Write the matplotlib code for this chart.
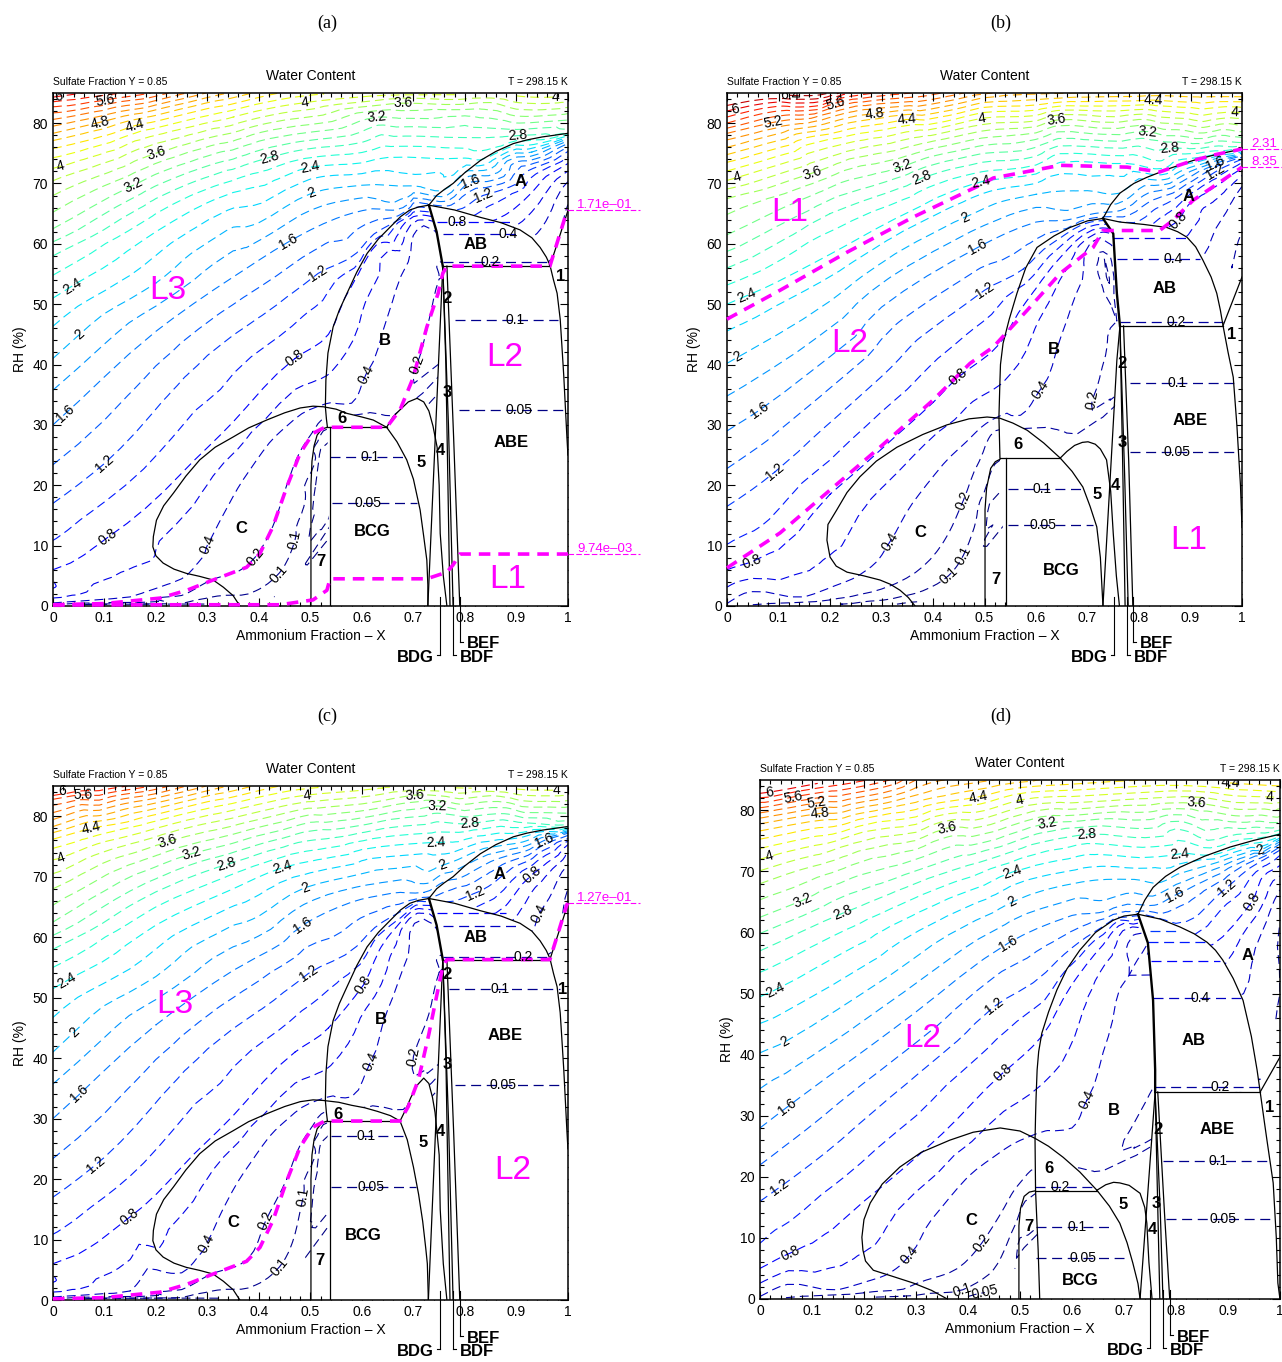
import numpy as np
import matplotlib
matplotlib.use('Agg')
import matplotlib.pyplot as plt
import matplotlib.tri as mtri
from matplotlib.ticker import MultipleLocator, FuncFormatter

plt.rcParams['font.family'] = ['Liberation Sans', 'DejaVu Sans']
plt.rcParams['lines.dashed_pattern'] = [8, 4.5]

# contour levels of water content
levels = [0.05, 0.1, 0.2, 0.4, 0.6, 0.8, 1.0, 1.2, 1.4, 1.6, 1.8, 2.0, 2.2, 2.4, 2.6, 2.8,
          3.0, 3.2, 3.4, 3.6, 3.8, 4.0, 4.2, 4.4, 4.6, 4.8, 5.0, 5.2, 5.4, 5.6, 5.8, 6.0, 6.2, 6.4]
lab_levels = [0.05, 0.1, 0.2, 0.4, 0.8, 1.2, 1.6, 2.0, 2.4, 2.8, 3.2, 3.6, 4.0, 4.4, 4.8, 5.2, 5.6, 6.0, 6.4]

# ---------------- panel (a) ----------------
iso_a = [
    (6.0, [0.0, 0.06], [84.3, 85.0]),
    (5.6, [0.0, 0.10, 0.19], [82.7, 83.8, 85.0]),
    (5.2, [0.0, 0.12, 0.26], [80.6, 82.6, 85.0]),
    (4.8, [0.0, 0.09, 0.20, 0.34], [78.3, 80.1, 82.2, 85.0]),
    (4.4, [0.0, 0.16, 0.30, 0.44], [75.8, 79.6, 82.4, 85.0]),
    (4.0, [0.0, 0.20, 0.35, 0.49, 0.62, 0.78, 0.90, 0.975, 1.0], [72.5, 78.0, 81.0, 83.4, 84.5, 84.7, 84.5, 84.3, 84.2]),
    (3.6, [0.0, 0.20, 0.45, 0.68, 0.85, 1.0], [68.0, 75.0, 80.5, 83.3, 83.4, 82.6]),
    (3.2, [0.0, 0.156, 0.40, 0.628, 0.80, 1.0], [62.5, 69.7, 77.0, 81.0, 81.2, 80.5]),
    (2.8, [0.0, 0.20, 0.42, 0.60, 0.80, 0.90, 1.0], [58.0, 67.5, 74.3, 76.8, 77.6, 77.9, 78.4]),
    (2.4, [0.0, 0.20, 0.35, 0.50, 0.65, 0.80, 0.83, 0.92, 1.0], [51.0, 62.0, 68.5, 72.7, 74.3, 74.2, 73.9, 76.3, 77.9]),
    (2.0, [0.0, 0.20, 0.40, 0.503, 0.60, 0.70, 0.757, 0.85, 0.93, 1.0], [41.0, 53.5, 63.5, 68.4, 69.7, 69.6, 68.8, 72.4, 75.2, 77.4]),
    (1.6, [0.0, 0.20, 0.35, 0.457, 0.55, 0.62, 0.68], [30.0, 45.5, 54.5, 60.3, 64.2, 65.8, 66.0]),
    (1.6, [0.75, 0.81, 0.90, 1.0], [67.0, 70.2, 73.6, 76.6]),
    (1.2, [0.0, 0.10, 0.30, 0.515, 0.59, 0.64, 0.69], [17.0, 23.6, 41.5, 55.1, 58.5, 62.5, 65.0]),
    (1.2, [0.78, 0.835, 0.92, 1.0], [65.5, 68.0, 72.0, 75.3]),
    (0.8, [0.0, 0.107, 0.25, 0.35, 0.47, 0.535, 0.58, 0.63, 0.70], [6.0, 11.4, 22.0, 30.5, 41.0, 45.0, 53.0, 60.0, 64.5]),
    (0.8, [0.86, 0.93, 1.0], [64.0, 68.5, 73.3]),
    (0.4, [0.0, 0.15, 0.25, 0.29, 0.30, 0.33, 0.37, 0.42, 0.47, 0.53, 0.58, 0.608, 0.65, 0.69, 0.72],
          [0.5, 1.5, 4.5, 8.0, 10.1, 15.0, 21.0, 27.0, 31.0, 33.5, 33.6, 38.4, 48.0, 57.0, 63.0]),
    (0.4, [0.93, 0.965, 1.0], [61.0, 65.0, 70.3]),
    (0.2, [0.0, 0.20, 0.30, 0.376, 0.427, 0.454, 0.48, 0.505, 0.53, 0.60, 0.66, 0.70, 0.73, 0.75, 0.757],
          [0.2, 1.2, 4.0, 6.6, 13.2, 20.0, 25.6, 28.9, 31.2, 31.8, 31.5, 38.7, 47.3, 54.2, 57.2]),
    (0.2, [0.968, 0.985, 1.0], [57.5, 61.5, 66.5]),
    (0.1, [0.25, 0.38, 0.44, 0.47, 0.49, 0.51, 0.525], [0.4, 2.0, 5.5, 10.9, 17.5, 24.5, 29.0]),
    (0.05, [0.33, 0.43, 0.466, 0.49, 0.50, 0.51, 0.52], [0.3, 1.5, 3.1, 7.0, 13.0, 20.0, 26.0]),
]
clab_a = [(0.012, 84.1), (0.101, 83.8), (0.091, 80.1), (0.16, 79.6), (0.2, 75.0), (0.156, 69.7),
          (0.014, 73.2), (0.042, 52.3), (0.056, 44.5), (0.029, 31.3), (0.101, 23.6), (0.107, 11.4),
          (0.42, 74.3), (0.5, 72.7), (0.503, 68.4), (0.457, 60.3), (0.515, 55.1), (0.47, 41.0),
          (0.49, 83.4), (0.68, 83.3), (0.628, 81.0), (0.975, 84.3), (0.903, 77.8), (0.81, 70.2),
          (0.835, 68.0), (0.3, 10.1), (0.389, 8.4), (0.47, 10.9), (0.466, 3.1), (0.608, 38.4), (0.697, 40.4)]
extra_a = []
bnd_a = [
    ([0.73, 0.745, 0.76, 0.777, 0.80, 0.83, 0.86, 0.894, 0.92, 0.95, 0.975, 1.0],
     [66.4, 68.0, 69.0, 70.0, 71.8, 73.8, 75.3, 76.6, 77.2, 77.7, 78.0, 78.3]),
    ([0.73, 0.71, 0.693, 0.675, 0.654, 0.632, 0.61, 0.59, 0.571, 0.556, 0.544, 0.534, 0.530, 0.529, 0.531, 0.533],
     [66.4, 66.1, 65.6, 64.5, 62.7, 60.8, 58.4, 55.3, 51.8, 49.0, 46.2, 41.9, 37.4, 33.0, 31.0, 29.6]),
    ([0.73, 0.78, 0.829, 0.87, 0.907, 0.93, 0.946, 0.958, 0.965, 0.972, 0.979, 0.985, 0.988, 0.992, 0.995, 0.998, 1.0],
     [66.4, 65.6, 64.4, 63.5, 62.3, 61.0, 59.4, 57.8, 56.5, 54.0, 51.8, 47.5, 43.5, 38.0, 33.0, 28.0, 25.0]),
    ([0.757, 0.965], [56.3, 56.3]),
    ([0.965, 1.0], [56.3, 65.5]),
    ([0.363, 0.35, 0.331, 0.311, 0.285, 0.259, 0.235, 0.214, 0.2, 0.194, 0.195, 0.201, 0.215, 0.234, 0.258, 0.285,
      0.315, 0.35, 0.38, 0.415, 0.45, 0.48, 0.505, 0.525, 0.55, 0.571, 0.6, 0.622, 0.648],
     [0.0, 1.7, 3.1, 4.3, 4.9, 5.4, 6.1, 7.1, 8.3, 9.8, 11.5, 14.2, 16.6, 18.7, 21.5, 24.2,
      26.3, 28.0, 29.5, 30.8, 32.0, 32.8, 33.1, 33.0, 32.6, 31.9, 31.3, 30.8, 29.6]),
    ([0.533, 0.648], [29.6, 29.6]),
    ([0.538, 0.538], [29.6, 0.0]),
    ([0.501, 0.501, 0.503, 0.507, 0.513, 0.522, 0.533], [0.0, 20.0, 24.0, 26.5, 28.3, 29.3, 29.6]),
    ([0.648, 0.668, 0.687, 0.70, 0.713, 0.72, 0.726, 0.728, 0.728], [29.6, 27.2, 24.2, 21.0, 15.9, 11.5, 7.6, 3.5, 0.0]),
    ([0.648, 0.66, 0.674, 0.69, 0.707, 0.72, 0.73, 0.738, 0.746, 0.75, 0.752, 0.758, 0.765],
     [29.6, 31.3, 32.5, 33.8, 34.4, 33.8, 32.3, 29.8, 26.3, 20.0, 12.0, 5.0, 0.0]),
    ([0.728, 0.757], [0.0, 56.3]),
    ([0.757, 0.763, 0.771], [56.3, 40.0, 0.0]),
    ([0.757, 0.768, 0.777], [56.3, 30.0, 0.0]),
    ([0.765, 0.778, 0.790], [56.3, 28.0, 0.0]),
]
thick_a = ([0.73, 0.745, 0.757], [66.4, 62.0, 56.3])
white_a = [
    ([0.73, 0.78, 0.829, 0.87, 0.907, 0.93, 0.946, 0.958, 0.965, 0.757, 0.745],
     [66.4, 65.6, 64.4, 63.5, 62.3, 61.0, 59.4, 57.8, 56.3, 56.3, 62.0]),
    ([0.728, 0.757, 0.965, 0.972, 0.979, 0.985, 0.988, 0.992, 0.995, 0.998, 1.0, 1.0],
     [0.0, 56.3, 56.3, 54.0, 51.8, 47.5, 43.5, 38.0, 33.0, 28.0, 25.0, 0.0]),
    ([0.538, 0.533, 0.531, 0.529, 0.525, 0.55, 0.571, 0.6, 0.622, 0.648, 0.66, 0.674, 0.69, 0.707, 0.72, 0.73,
      0.738, 0.746, 0.75, 0.752, 0.758, 0.765],
     [0.0, 29.6, 31.0, 33.0, 33.0, 32.6, 31.9, 31.3, 30.8, 29.6, 31.3, 32.5, 33.8, 34.4, 33.8, 32.3,
      29.8, 26.3, 20.0, 12.0, 5.0, 0.0]),
]
hz_a = [(0.8, 63.6, 0.745, 0.890, 0.784), (0.4, 61.6, 0.757, 0.905, 0.884), (0.2, 57.0, 0.757, 0.962, 0.849),
        (0.1, 47.3, 0.781, 0.980, 0.898), (0.05, 32.5, 0.789, 0.990, 0.905),
        (0.1, 24.7, 0.538, 0.688, 0.615), (0.05, 17.0, 0.541, 0.706, 0.612)]
mag_a = [
    ([0.0, 0.1, 0.208, 0.26, 0.311, 0.376, 0.402, 0.427, 0.454, 0.48, 0.505, 0.528, 0.648, 0.674, 0.699,
      0.726, 0.748, 0.757, 0.765, 0.965, 0.998, 1.0],
     [0.2, 0.4, 1.3, 2.6, 4.3, 6.4, 8.7, 13.1, 19.7, 25.3, 28.6, 29.6, 29.6, 32.5, 37.7,
      46.2, 51.8, 55.1, 56.3, 56.3, 65.4, 65.6]),
    ([0.0, 0.25, 0.441, 0.505, 0.532, 0.538, 0.726, 0.765, 0.777, 0.79, 1.0],
     [0.15, 0.2, 0.2, 1.0, 2.6, 4.5, 4.5, 5.6, 6.8, 8.6, 8.6]),
]
mlab_a = [('1.71e\u201301', 65.6), ('9.74e\u201303', 8.6)]
reg_a = [('A', 0.909, 70.4), ('AB', 0.821, 59.9), ('B', 0.645, 43.9), ('C', 0.365, 12.9), ('BCG', 0.621, 12.3),
         ('ABE', 0.889, 27.0), ('1', 0.986, 54.6), ('2', 0.765, 51.0), ('3', 0.765, 35.4), ('4', 0.753, 25.7),
         ('5', 0.715, 23.7), ('6', 0.561, 31.0), ('7', 0.52, 7.3)]
lab_a = [('L3', 0.223, 52.2), ('L2', 0.878, 41.2), ('L1', 0.883, 4.3)]
ptr_a = [('BDG', 0.751, -8.1), ('BDF', 0.777, -8.1), ('BEF', 0.790, -5.9)]

# ---------------- panel (b) ----------------
iso_b = [
    (6.4, [0.0, 0.122, 0.20], [83.8, 84.6, 85.0]),
    (6.0, [0.0, 0.10, 0.24], [82.0, 83.5, 85.0]),
    (5.6, [0.0, 0.21, 0.36], [80.0, 83.3, 85.0]),
    (5.2, [0.0, 0.089, 0.25, 0.46], [78.3, 80.1, 82.8, 85.0]),
    (4.8, [0.0, 0.15, 0.287, 0.50, 0.68], [76.0, 79.2, 81.6, 84.2, 85.0]),
    (4.75, [0.80, 0.92, 1.0], [85.0, 85.0, 85.0]),
    (4.4, [0.0, 0.15, 0.349, 0.60, 0.828, 1.0], [73.5, 77.5, 80.6, 83.0, 83.8, 83.5]),
    (4.0, [0.0, 0.25, 0.495, 0.75, 0.986], [70.5, 77.0, 80.8, 82.0, 81.8]),
    (3.6, [0.0, 0.165, 0.40, 0.64, 0.80, 1.0], [67.5, 71.7, 77.0, 80.5, 80.6, 79.7]),
    (3.2, [0.0, 0.15, 0.34, 0.60, 0.817, 1.0], [61.5, 67.5, 72.8, 77.3, 78.6, 77.6]),
    (2.8, [0.0, 0.20, 0.379, 0.60, 0.86, 1.0], [56.0, 65.0, 70.9, 74.5, 75.8, 76.2]),
    (2.4, [0.0, 0.10, 0.233, 0.361, 0.495, 0.647, 0.777, 0.85, 0.93, 1.0],
          [50.0, 53.8, 59.8, 65.6, 70.3, 73.5, 73.3, 72.5, 74.5, 75.5]),
    (2.0, [0.0, 0.20, 0.462, 0.60, 0.70, 0.763, 0.88, 1.0], [40.2, 50.5, 64.4, 68.2, 68.8, 68.4, 72.0, 75.0]),
    (1.6, [0.0, 0.064, 0.30, 0.487, 0.60, 0.68], [29.0, 32.5, 49.5, 59.4, 63.6, 64.3]),
    (1.6, [0.75, 0.82, 0.948, 1.0], [65.3, 68.5, 73.3, 74.6]),
    (1.2, [0.0, 0.093, 0.30, 0.50, 0.575, 0.63, 0.69], [16.5, 22.2, 38.0, 52.3, 55.8, 60.0, 63.2]),
    (1.2, [0.79, 0.87, 0.948, 1.0], [63.5, 67.5, 71.9, 74.0]),
    (0.8, [0.0, 0.048, 0.20, 0.30, 0.40, 0.449, 0.53, 0.58, 0.65, 0.71],
          [6.0, 7.3, 18.5, 26.0, 33.7, 37.9, 43.5, 50.3, 58.0, 62.3]),
    (0.8, [0.85, 0.876, 0.905, 1.0], [62.4, 63.9, 67.2, 72.5]),
    (0.4, [0.0, 0.15, 0.23, 0.28, 0.316, 0.36, 0.42, 0.48, 0.53, 0.57, 0.608, 0.65, 0.69, 0.725],
          [0.4, 1.5, 4.0, 6.5, 10.6, 17.0, 23.5, 28.5, 31.5, 31.6, 35.8, 45.0, 54.0, 61.0]),
    (0.4, [0.925, 0.96, 1.0], [58.0, 64.0, 69.5]),
    (0.2, [0.05, 0.20, 0.30, 0.38, 0.43, 0.459, 0.49, 0.52, 0.60, 0.68, 0.709, 0.735, 0.757],
          [0.2, 1.0, 2.8, 6.5, 12.0, 17.5, 24.0, 29.0, 29.5, 28.5, 34.1, 41.5, 47.2]),
    (0.2, [0.957, 0.98, 1.0], [49.0, 56.0, 62.0]),
    (0.1, [0.25, 0.38, 0.43, 0.459, 0.48, 0.50, 0.52], [0.5, 2.5, 5.0, 8.4, 13.0, 19.0, 23.5]),
    (0.05, [0.33, 0.42, 0.462, 0.485, 0.50, 0.51], [0.3, 1.2, 2.3, 6.0, 11.0, 17.0]),
]
clab_b = [(0.016, 82.3), (0.122, 84.6), (0.089, 80.1), (0.21, 83.3), (0.287, 81.6), (0.349, 80.6),
          (0.495, 80.8), (0.019, 71.0), (0.165, 71.7), (0.34, 72.8), (0.379, 70.9), (0.495, 69.9),
          (0.462, 64.4), (0.487, 59.4), (0.5, 52.3), (0.041, 51.0), (0.025, 40.7), (0.064, 32.5),
          (0.093, 22.2), (0.048, 7.3), (0.449, 37.9), (0.316, 10.6), (0.459, 17.5), (0.459, 8.4),
          (0.462, 2.3), (0.64, 80.5), (0.817, 78.6), (0.86, 75.8), (0.828, 83.8), (0.986, 81.8),
          (0.948, 73.3), (0.948, 71.9), (0.876, 63.9), (0.608, 35.8), (0.709, 34.1)]
extra_b = []
bnd_b = [
    ([0.73, 0.745, 0.763, 0.79, 0.815, 0.86, 0.905, 0.95, 1.0], [64.2, 66.5, 68.4, 70.0, 71.0, 72.5, 73.8, 74.8, 75.7]),
    ([0.73, 0.70, 0.666, 0.635, 0.602, 0.58, 0.563, 0.548, 0.536, 0.531, 0.53, 0.528, 0.53],
     [64.2, 63.8, 62.7, 61.3, 59.4, 56.0, 51.8, 47.5, 43.5, 40.0, 37.4, 31.3, 24.5]),
    ([0.73, 0.763, 0.81, 0.854, 0.875, 0.893, 0.91, 0.924, 0.94, 0.951, 0.958, 0.963, 0.973, 0.983, 0.99, 0.997, 1.0],
     [64.2, 63.6, 63.2, 62.7, 62.0, 61.1, 59.5, 57.3, 54.5, 51.8, 49.0, 46.5, 42.0, 37.9, 30.0, 20.0, 13.0]),
    ([0.763, 0.963], [46.4, 46.4]),
    ([0.963, 1.0], [46.4, 54.5]),
    ([0.365, 0.352, 0.336, 0.317, 0.297, 0.265, 0.233, 0.212, 0.2, 0.194, 0.196, 0.213, 0.233, 0.258, 0.29, 0.33,
      0.38, 0.427, 0.47, 0.505, 0.53, 0.555, 0.583, 0.615, 0.647],
     [0.0, 1.4, 2.6, 3.6, 4.3, 5.0, 5.6, 6.6, 8.1, 10.9, 13.5, 15.9, 18.8, 21.4, 24.0, 26.3,
      28.4, 30.0, 31.0, 31.3, 31.1, 30.3, 29.1, 27.0, 24.5]),
    ([0.53, 0.647], [24.5, 24.5]),
    ([0.542, 0.542], [24.5, 0.0]),
    ([0.501, 0.501, 0.504, 0.512, 0.521, 0.53], [0.0, 16.0, 19.5, 22.8, 23.9, 24.3]),
    ([0.647, 0.67, 0.691, 0.705, 0.718, 0.725, 0.73], [24.5, 22.3, 19.7, 16.5, 13.1, 8.0, 0.0]),
    ([0.647, 0.66, 0.675, 0.69, 0.701, 0.715, 0.725, 0.737, 0.745, 0.75, 0.756, 0.762],
     [24.5, 25.6, 26.6, 27.1, 27.2, 26.8, 26.0, 24.2, 19.0, 12.0, 5.0, 0.0]),
    ([0.73, 0.757, 0.763], [0.0, 40.7, 46.4]),
    ([0.763, 0.768, 0.773], [46.4, 25.0, 0.0]),
    ([0.763, 0.772, 0.779], [46.4, 22.0, 0.0]),
    ([0.77, 0.78, 0.788], [46.4, 24.0, 0.0]),
]
thick_b = ([0.73, 0.75, 0.757, 0.763], [64.2, 61.7, 51.8, 46.4])
white_b = [
    ([0.73, 0.763, 0.81, 0.854, 0.875, 0.893, 0.91, 0.924, 0.94, 0.951, 0.958, 0.963, 0.763, 0.757, 0.75],
     [64.2, 63.6, 63.2, 62.7, 62.0, 61.1, 59.5, 57.3, 54.5, 51.8, 49.0, 46.4, 46.4, 51.8, 61.7]),
    ([0.73, 0.763, 0.963, 0.973, 0.983, 0.99, 0.997, 1.0, 1.0], [0.0, 46.4, 46.4, 42.0, 37.9, 30.0, 20.0, 13.0, 0.0]),
    ([0.542, 0.53, 0.528, 0.53, 0.555, 0.583, 0.615, 0.647, 0.66, 0.675, 0.69, 0.701, 0.715, 0.725, 0.737,
      0.745, 0.75, 0.756, 0.762],
     [0.0, 24.5, 28.0, 31.1, 30.3, 29.1, 27.0, 24.5, 25.6, 26.6, 27.1, 27.2, 26.8, 26.0, 24.2,
      19.0, 12.0, 5.0, 0.0]),
]
hz_b = [(0.6, 60.9, 0.750, 0.893, None), (0.4, 57.4, 0.757, 0.918, 0.866), (0.2, 47.0, 0.763, 0.963, 0.873),
        (0.1, 36.9, 0.783, 0.990, 0.873), (0.05, 25.5, 0.783, 0.995, 0.873),
        (0.1, 19.4, 0.545, 0.690, 0.611), (0.05, 13.4, 0.545, 0.710, 0.614)]
mag_b = [
    ([0.0, 0.006, 0.103, 0.233, 0.361, 0.491, 0.517, 0.647, 0.777, 0.84, 0.86, 0.905, 0.95, 1.0],
     [47.5, 47.8, 52.3, 58.6, 64.4, 69.7, 70.9, 73.0, 72.7, 71.9, 72.5, 73.8, 74.8, 75.7]),
    ([0.0, 0.103, 0.2, 0.297, 0.4, 0.472, 0.517, 0.583, 0.647, 0.711, 0.73, 0.84, 0.866, 0.905, 1.0],
     [6.3, 12.1, 19.2, 26.3, 34.1, 40.2, 42.9, 49.0, 55.1, 59.4, 62.2, 62.2, 63.9, 67.2, 72.7]),
]
mlab_b = [('2.31', 75.7), ('8.35', 72.7)]
reg_b = [('A', 0.897, 67.9), ('AB', 0.849, 52.6), ('B', 0.635, 42.5), ('C', 0.375, 12.1), ('BCG', 0.649, 5.8),
         ('ABE', 0.899, 30.8), ('1', 0.98, 45.0), ('2', 0.767, 40.2), ('3', 0.767, 27.0), ('4', 0.755, 19.9),
         ('5', 0.718, 18.4), ('6', 0.565, 26.7), ('7', 0.522, 4.3)]
lab_b = [('L1', 0.122, 65.2), ('L2', 0.239, 43.5), ('L1', 0.897, 10.9)]
ptr_b = [('BDG', 0.751, -8.1), ('BDF', 0.777, -8.1), ('BEF', 0.788, -5.9)]

# ---------------- panel (c) ----------------
iso_c = [
    (6.0, [0.0, 0.03, 0.09], [84.0, 84.4, 85.0]),
    (5.6, [0.0, 0.048, 0.19], [82.8, 83.5, 85.0]),
    (5.2, [0.0, 0.12, 0.26], [80.6, 82.6, 85.0]),
    (4.8, [0.0, 0.09, 0.20, 0.34], [78.3, 80.1, 82.2, 85.0]),
    (4.4, [0.0, 0.075, 0.30, 0.44], [76.2, 78.0, 82.4, 85.0]),
    (4.0, [0.0, 0.20, 0.35, 0.493, 0.62, 0.78, 0.90, 0.977, 1.0], [72.8, 78.0, 81.0, 83.5, 84.5, 84.7, 84.5, 84.3, 84.2]),
    (3.6, [0.0, 0.223, 0.45, 0.703, 0.85, 1.0], [68.0, 75.8, 80.5, 83.5, 83.4, 82.6]),
    (3.2, [0.0, 0.269, 0.50, 0.747, 0.88, 1.0], [62.5, 73.8, 79.0, 81.7, 81.4, 80.5]),
    (2.8, [0.0, 0.20, 0.336, 0.55, 0.81, 0.92, 1.0], [58.0, 67.5, 72.0, 76.5, 78.8, 78.9, 78.6]),
    (2.4, [0.0, 0.20, 0.35, 0.446, 0.60, 0.744, 0.90, 1.0], [51.5, 62.0, 68.0, 71.5, 74.5, 75.7, 77.2, 78.1]),
    (2.0, [0.0, 0.20, 0.40, 0.49, 0.60, 0.757, 0.86, 0.93, 1.0], [41.0, 53.5, 63.5, 68.2, 70.5, 71.9, 75.0, 76.3, 77.6]),
    (1.6, [0.0, 0.20, 0.35, 0.485, 0.58, 0.66, 0.72], [30.0, 45.5, 54.5, 62.0, 65.8, 67.3, 67.4]),
    (1.6, [0.76, 0.85, 0.954, 1.0], [69.2, 72.5, 76.0, 77.2]),
    (1.2, [0.0, 0.10, 0.30, 0.496, 0.59, 0.64, 0.69], [17.0, 23.6, 41.5, 54.0, 58.5, 62.5, 65.0]),
    (1.2, [0.76, 0.82, 0.92, 1.0], [65.8, 67.3, 72.5, 76.3]),
    (0.8, [0.0, 0.149, 0.25, 0.35, 0.47, 0.535, 0.603, 0.65, 0.70], [6.0, 13.7, 22.0, 30.5, 41.0, 45.0, 52.1, 60.0, 64.5]),
    (0.8, [0.86, 0.931, 1.0], [64.0, 70.4, 75.3]),
    (0.4, [0.0, 0.15, 0.25, 0.29, 0.30, 0.33, 0.37, 0.42, 0.47, 0.53, 0.58, 0.617, 0.65, 0.69, 0.72],
          [0.5, 1.5, 4.5, 8.0, 9.6, 15.0, 21.0, 27.0, 31.0, 33.5, 33.6, 39.4, 48.0, 57.0, 63.0]),
    (0.4, [0.93, 0.944, 0.97, 1.0], [61.0, 63.9, 67.5, 72.0]),
    (0.2, [0.0, 0.20, 0.30, 0.376, 0.413, 0.454, 0.48, 0.505, 0.53, 0.60, 0.68, 0.70, 0.73, 0.75, 0.757],
          [0.2, 1.2, 4.0, 6.6, 13.1, 20.0, 25.6, 28.9, 31.2, 31.8, 31.5, 40.3, 47.3, 54.2, 57.2]),
    (0.2, [0.968, 0.985, 1.0], [57.5, 62.0, 68.0]),
    (0.1, [0.25, 0.38, 0.44, 0.47, 0.486, 0.51, 0.525], [0.4, 2.0, 5.5, 10.9, 17.0, 24.5, 29.0]),
    (0.05, [0.33, 0.43, 0.459, 0.49, 0.50, 0.51, 0.52], [0.3, 1.5, 4.0, 7.0, 13.0, 20.0, 26.0]),
]
clab_c = [(0.058, 83.3), (0.075, 78.0), (0.015, 73.4), (0.223, 75.8), (0.269, 73.8),
          (0.336, 72.0), (0.446, 71.5), (0.49, 68.2), (0.485, 62.0), (0.496, 54.0), (0.603, 52.1),
          (0.032, 52.1), (0.045, 43.9), (0.055, 33.8), (0.082, 22.4), (0.149, 13.7), (0.292, 9.6),
          (0.413, 13.1), (0.486, 17.0), (0.459, 4.0), (0.617, 39.4), (0.70, 40.3), (0.493, 83.5),
          (0.703, 83.5), (0.747, 81.7), (0.81, 78.8), (0.744, 75.7), (0.757, 71.9), (0.82, 67.3),
          (0.931, 70.4), (0.954, 76.0), (0.944, 63.9), (0.977, 84.3)]
extra_c = [('6', 0.017, 84.2)]
bnd_c = [
    ([0.73, 0.745, 0.76, 0.777, 0.80, 0.83, 0.86, 0.894, 0.92, 0.95, 0.975, 1.0],
     [66.4, 68.0, 69.0, 70.0, 71.8, 73.8, 75.3, 76.6, 77.2, 77.7, 78.0, 78.3]),
    ([0.73, 0.71, 0.693, 0.675, 0.654, 0.632, 0.61, 0.59, 0.571, 0.556, 0.544, 0.534, 0.530, 0.529, 0.531, 0.533],
     [66.4, 66.1, 65.6, 64.5, 62.7, 60.8, 58.4, 55.3, 51.8, 49.0, 46.2, 41.9, 37.4, 33.0, 31.0, 29.6]),
    ([0.73, 0.78, 0.829, 0.87, 0.907, 0.93, 0.946, 0.958, 0.965, 0.972, 0.979, 0.985, 0.988, 0.992, 0.995, 0.998, 1.0],
     [66.4, 65.6, 64.4, 63.5, 62.3, 61.0, 59.4, 57.8, 56.5, 54.0, 51.8, 47.5, 43.5, 38.0, 33.0, 28.0, 25.0]),
    ([0.757, 0.965], [56.3, 56.3]),
    ([0.965, 1.0], [56.3, 65.5]),
    ([0.363, 0.35, 0.331, 0.311, 0.285, 0.259, 0.235, 0.214, 0.2, 0.194, 0.195, 0.201, 0.215, 0.234, 0.258, 0.285,
      0.315, 0.35, 0.38, 0.415, 0.45, 0.48, 0.505, 0.525, 0.555, 0.58, 0.605, 0.63, 0.655, 0.674],
     [0.0, 1.7, 3.1, 4.3, 4.9, 5.4, 6.1, 7.1, 8.3, 9.8, 11.5, 14.2, 16.6, 18.7, 21.5, 24.2,
      26.3, 28.0, 29.5, 30.8, 32.0, 32.8, 33.1, 33.0, 32.7, 32.2, 31.8, 31.2, 30.5, 29.6]),
    ([0.533, 0.674], [29.6, 29.6]),
    ([0.538, 0.538], [29.6, 0.0]),
    ([0.501, 0.501, 0.503, 0.507, 0.513, 0.522, 0.533], [0.0, 20.0, 24.0, 26.5, 28.3, 29.3, 29.6]),
    ([0.674, 0.688, 0.700, 0.71, 0.718, 0.724, 0.727, 0.729], [29.6, 26.5, 22.0, 17.5, 13.0, 8.5, 6.0, 0.0]),
    ([0.674, 0.685, 0.695, 0.708, 0.72, 0.73, 0.737, 0.742, 0.746, 0.75, 0.752, 0.758, 0.765],
     [29.6, 31.5, 33.5, 35.6, 36.7, 35.8, 33.5, 31.0, 27.5, 24.0, 15.0, 6.0, 0.0]),
    ([0.729, 0.757], [0.0, 56.3]),
    ([0.757, 0.763, 0.771], [56.3, 40.0, 0.0]),
    ([0.757, 0.768, 0.777], [56.3, 30.0, 0.0]),
    ([0.765, 0.778, 0.790], [56.3, 28.0, 0.0]),
]
thick_c = ([0.73, 0.745, 0.757], [66.4, 62.0, 56.3])
white_c = [
    ([0.73, 0.78, 0.829, 0.87, 0.907, 0.93, 0.946, 0.958, 0.965, 0.757, 0.745],
     [66.4, 65.6, 64.4, 63.5, 62.3, 61.0, 59.4, 57.8, 56.3, 56.3, 62.0]),
    ([0.729, 0.757, 0.965, 0.972, 0.979, 0.985, 0.988, 0.992, 0.995, 0.998, 1.0, 1.0],
     [0.0, 56.3, 56.3, 54.0, 51.8, 47.5, 43.5, 38.0, 33.0, 28.0, 25.0, 0.0]),
    ([0.538, 0.533, 0.531, 0.529, 0.525, 0.555, 0.58, 0.605, 0.63, 0.655, 0.674, 0.685, 0.695, 0.708, 0.72,
      0.73, 0.737, 0.742, 0.746, 0.75, 0.752, 0.758, 0.765],
     [0.0, 29.6, 31.0, 33.0, 33.0, 32.7, 32.2, 31.8, 31.2, 30.5, 29.6, 31.5, 33.5, 35.6, 36.7,
      35.8, 33.5, 31.0, 27.5, 24.0, 15.0, 6.0, 0.0]),
]
hz_c = [(0.8, 64.0, 0.745, 0.880, None), (0.4, 61.8, 0.757, 0.905, None), (0.2, 56.8, 0.757, 0.962, 0.914),
        (0.1, 51.4, 0.770, 0.985, 0.868), (0.05, 35.5, 0.780, 0.995, 0.874),
        (0.1, 27.1, 0.540, 0.680, 0.608), (0.05, 18.7, 0.540, 0.705, 0.617)]
mag_c = [
    ([0.0, 0.1, 0.208, 0.26, 0.311, 0.376, 0.402, 0.427, 0.454, 0.48, 0.505, 0.528, 0.674, 0.69, 0.71,
      0.73, 0.748, 0.757, 0.765, 0.965, 0.998, 1.0],
     [0.2, 0.4, 1.3, 2.6, 4.3, 6.4, 8.7, 13.1, 19.7, 25.3, 28.6, 29.6, 29.6, 32.0, 36.5,
      44.0, 51.5, 55.1, 56.3, 56.3, 65.4, 65.6]),
]
mlab_c = [('1.27e\u201301', 65.6)]
reg_c = [('A', 0.868, 70.4), ('AB', 0.821, 60.0), ('B', 0.637, 46.4), ('C', 0.35, 12.9), ('BCG', 0.602, 10.7),
         ('ABE', 0.878, 43.8), ('1', 0.99, 51.4), ('2', 0.765, 53.9), ('3', 0.765, 39.0), ('4', 0.753, 27.9),
         ('5', 0.718, 26.0), ('6', 0.553, 30.6), ('7', 0.518, 6.6)]
lab_c = [('L3', 0.237, 48.9), ('L2', 0.893, 21.5)]
ptr_c = [('BDG', 0.751, -8.1), ('BDF', 0.777, -8.1), ('BEF', 0.790, -5.9)]

# ---------------- panel (d) ----------------
iso_d = [
    (6.0, [0.0, 0.019, 0.15], [82.8, 83.0, 85.0]),
    (5.6, [0.0, 0.064, 0.25], [81.3, 82.2, 85.0]),
    (5.2, [0.0, 0.109, 0.30], [79.6, 81.2, 85.0]),
    (4.8, [0.0, 0.115, 0.30, 0.45], [77.8, 79.5, 82.5, 85.0]),
    (4.4, [0.0, 0.15, 0.419, 0.60, 0.75, 0.904, 1.0], [75.3, 77.5, 82.2, 84.3, 85.0, 84.5, 84.0]),
    (4.0, [0.0, 0.20, 0.50, 0.75, 0.981], [72.0, 76.5, 81.7, 83.0, 82.2]),
    (3.6, [0.0, 0.10, 0.359, 0.60, 0.84, 1.0], [68.0, 70.8, 77.1, 80.2, 81.2, 80.3]),
    (3.2, [0.0, 0.083, 0.30, 0.552, 0.75, 1.0], [62.5, 65.3, 72.0, 77.9, 78.5, 78.0]),
    (2.8, [0.0, 0.16, 0.40, 0.629, 0.80, 1.0], [57.0, 63.2, 71.0, 76.1, 77.0, 76.8]),
    (2.4, [0.0, 0.029, 0.25, 0.485, 0.65, 0.808, 0.87, 0.94, 1.0], [49.5, 50.6, 61.0, 69.9, 72.8, 72.9, 72.7, 74.5, 75.8]),
    (2.0, [0.0, 0.048, 0.25, 0.485, 0.62, 0.72, 0.77, 0.88, 0.962, 1.0],
          [40.3, 42.1, 53.0, 65.0, 68.3, 68.7, 68.2, 71.5, 73.5, 75.2]),
    (1.6, [0.0, 0.052, 0.30, 0.478, 0.60, 0.67], [28.0, 31.4, 47.0, 58.3, 62.8, 63.6]),
    (1.6, [0.745, 0.798, 0.90, 1.0], [64.4, 66.1, 70.5, 74.5]),
    (1.2, [0.0, 0.038, 0.25, 0.449, 0.55, 0.60, 0.66, 0.70], [16.0, 18.3, 33.0, 47.8, 53.5, 57.5, 61.0, 62.5]),
    (1.2, [0.80, 0.898, 0.96, 1.0], [61.5, 67.4, 71.5, 73.5]),
    (0.8, [0.0, 0.058, 0.20, 0.35, 0.467, 0.542, 0.60, 0.66, 0.70], [5.0, 7.5, 16.0, 27.0, 37.0, 43.0, 51.5, 58.0, 61.5]),
    (0.8, [0.87, 0.946, 1.0], [58.0, 65.0, 71.0]),
    (0.4, [0.0, 0.15, 0.23, 0.27, 0.288, 0.33, 0.40, 0.47, 0.53, 0.60, 0.629, 0.67, 0.71, 0.74],
          [0.4, 1.5, 3.5, 5.5, 7.2, 13.0, 20.0, 24.5, 27.0, 28.0, 32.6, 43.0, 53.0, 60.0]),
    (0.4, [0.93, 0.965, 1.0], [50.0, 60.0, 67.0]),
    (0.2, [0.05, 0.20, 0.30, 0.38, 0.427, 0.47, 0.50, 0.53, 0.60, 0.66, 0.70, 0.74, 0.76],
          [0.2, 1.0, 2.5, 5.0, 9.2, 15.0, 19.0, 21.5, 21.6, 21.0, 26.0, 32.0, 35.0]),
    (0.2, [0.962, 0.985, 1.0], [36.0, 42.0, 50.0]),
    (0.1, [0.30, 0.39, 0.44, 0.47, 0.49, 0.51], [0.6, 1.5, 4.0, 8.0, 12.0, 16.0]),
    (0.05, [0.40, 0.471, 0.49, 0.50], [0.4, 1.8, 5.0, 10.0]),
]
clab_d = [(0.019, 83.0), (0.064, 82.2), (0.109, 81.2), (0.115, 79.5), (0.419, 82.2), (0.5, 81.7),
          (0.359, 77.1), (0.019, 72.2), (0.083, 65.3), (0.16, 63.2), (0.485, 69.9), (0.485, 65.0),
          (0.477, 58.3), (0.452, 47.8), (0.029, 50.6), (0.048, 42.1), (0.052, 31.4), (0.038, 18.3),
          (0.058, 7.5), (0.467, 37.0), (0.288, 7.2), (0.427, 9.2), (0.39, 1.5), (0.471, 1.8),
          (0.629, 32.6), (0.552, 77.9), (0.629, 76.1), (0.84, 81.2), (0.904, 84.5), (0.981, 82.2),
          (0.808, 72.7), (0.962, 73.5), (0.798, 66.1), (0.898, 67.4), (0.946, 65.0)]
extra_d = []
bnd_d = [
    ([0.727, 0.74, 0.756, 0.78, 0.808, 0.855, 0.904, 0.95, 1.0], [63.0, 65.3, 67.4, 69.2, 70.7, 72.5, 74.0, 75.1, 76.1]),
    ([0.727, 0.70, 0.679, 0.645, 0.615, 0.59, 0.571, 0.555, 0.542, 0.536, 0.533, 0.531, 0.53, 0.529, 0.53, 0.535, 0.538],
     [63.0, 62.7, 62.0, 60.0, 57.1, 54.0, 50.6, 47.0, 43.5, 40.5, 37.5, 33.0, 30.0, 26.0, 17.7, 8.0, 0.0]),
    ([0.727, 0.77, 0.808, 0.835, 0.86, 0.876, 0.89, 0.91, 0.929, 0.945, 0.956, 0.962, 0.97, 0.975, 0.987, 0.993, 0.996, 1.0],
     [63.0, 62.2, 60.9, 59.8, 58.4, 57.1, 55.5, 52.5, 48.9, 43.0, 37.5, 33.9, 29.0, 26.0, 19.0, 10.0, 2.6, 0.0]),
    ([0.76, 0.962], [33.9, 33.9]),
    ([0.962, 1.0], [33.9, 39.6]),
    ([0.36, 0.33, 0.295, 0.255, 0.218, 0.203, 0.198, 0.196, 0.2, 0.212, 0.235, 0.269, 0.31, 0.365, 0.41, 0.462,
      0.5, 0.529, 0.555, 0.583, 0.615, 0.648],
     [0.0, 1.4, 2.6, 3.7, 4.7, 6.2, 8.0, 10.1, 13.0, 15.7, 18.8, 21.6, 24.0, 26.0, 27.3, 28.0,
      27.5, 26.3, 25.0, 23.2, 20.8, 17.8]),
    ([0.529, 0.648], [17.7, 17.7]),
    ([0.498, 0.498, 0.501, 0.508, 0.518, 0.529], [0.0, 12.0, 14.8, 16.8, 17.5, 17.7]),
    ([0.648, 0.672, 0.692, 0.706, 0.717, 0.727, 0.731], [17.8, 15.2, 12.4, 9.2, 5.9, 2.5, 0.0]),
    ([0.648, 0.665, 0.68, 0.692, 0.71, 0.731, 0.74, 0.744, 0.748, 0.754], [17.8, 18.7, 19.1, 19.0, 18.6, 17.3, 15.0, 12.4, 6.0, 0.0]),
    ([0.731, 0.76], [0.0, 33.9]),
    ([0.76, 0.765, 0.769], [33.9, 15.0, 0.0]),
    ([0.76, 0.77, 0.775], [33.9, 14.0, 0.0]),
    ([0.765, 0.778, 0.788], [33.9, 14.0, 0.0]),
]
thick_d = ([0.727, 0.746, 0.756, 0.76, 0.76], [63.0, 58.3, 48.9, 37.5, 33.9])
white_d = [
    ([0.727, 0.77, 0.808, 0.835, 0.86, 0.876, 0.89, 0.91, 0.929, 0.945, 0.956, 0.962, 0.76, 0.756, 0.746],
     [63.0, 62.2, 60.9, 59.8, 58.4, 57.1, 55.5, 52.5, 48.9, 43.0, 37.5, 33.9, 33.9, 48.9, 58.3]),
    ([0.731, 0.76, 0.962, 0.97, 0.975, 0.987, 0.993, 0.996, 1.0], [0.0, 33.9, 33.9, 29.0, 26.0, 19.0, 10.0, 2.6, 0.0]),
    ([0.538, 0.535, 0.53, 0.529, 0.555, 0.583, 0.615, 0.648, 0.665, 0.68, 0.692, 0.71, 0.731, 0.74, 0.744,
      0.748, 0.754],
     [0.0, 8.0, 17.7, 26.3, 25.0, 23.2, 20.8, 17.8, 18.7, 19.1, 19.0, 18.6, 17.3, 15.0, 12.4, 6.0, 0.0]),
]
hz_d = [(1.2, 60.2, 0.750, 0.800, None), (1.0, 58.4, 0.746, 0.860, None), (0.8, 55.3, 0.752, 0.885, None),
        (0.4, 49.3, 0.756, 0.926, 0.846), (0.2, 34.7, 0.760, 0.962, 0.885), (0.1, 22.6, 0.776, 0.980, 0.881),
        (0.05, 13.1, 0.780, 0.987, 0.891), (0.2, 18.3, 0.529, 0.648, 0.577), (0.1, 11.8, 0.530, 0.680, 0.609),
        (0.05, 6.7, 0.530, 0.700, 0.622)]
mag_d = []
mlab_d = []
reg_d = [('A', 0.937, 56.3), ('AB', 0.833, 42.4), ('B', 0.681, 30.8), ('C', 0.406, 12.8), ('BCG', 0.615, 3.1),
         ('ABE', 0.879, 27.7), ('1', 0.981, 31.3), ('2', 0.765, 27.7), ('3', 0.763, 15.7), ('4', 0.754, 11.3),
         ('5', 0.698, 15.4), ('6', 0.556, 21.4), ('7', 0.517, 11.8)]
lab_d = [('L2', 0.313, 42.7)]
ptr_d = [('BDG', 0.750, -8.1), ('BDF', 0.775, -8.1), ('BEF', 0.788, -5.9)]

panels = [
    dict(name='(a)', tpos=(327, 23), pos=[0.0413, 0.5551, 0.4017, 0.3767], iso=iso_a, clab=clab_a, extra=extra_a,
         bnd=bnd_a, thick=thick_a, white=white_a, hz=hz_a, mag=mag_a, mlab=mlab_a, reg=reg_a, lab=lab_a, ptr=ptr_a),
    dict(name='(b)', tpos=(1001, 23), pos=[0.5671, 0.5551, 0.4017, 0.3767], iso=iso_b, clab=clab_b, extra=extra_b,
         bnd=bnd_b, thick=thick_b, white=white_b, hz=hz_b, mag=mag_b, mlab=mlab_b, reg=reg_b, lab=lab_b, ptr=ptr_b),
    dict(name='(c)', tpos=(327, 716), pos=[0.0413, 0.0455, 0.4017, 0.3774], iso=iso_c, clab=clab_c, extra=extra_c,
         bnd=bnd_c, thick=thick_c, white=white_c, hz=hz_c, mag=mag_c, mlab=mlab_c, reg=reg_c, lab=lab_c, ptr=ptr_c),
    dict(name='(d)', tpos=(1001, 716), pos=[0.5928, 0.0463, 0.4056, 0.3811], iso=iso_d, clab=clab_d, extra=extra_d,
         bnd=bnd_d, thick=thick_d, white=white_d, hz=hz_d, mag=mag_d, mlab=mlab_d, reg=reg_d, lab=lab_d, ptr=ptr_d),
]

cmap = plt.get_cmap('jet')
norm = plt.Normalize(0.0, 6.6)
MAG = '#ff00ff'

fig = plt.figure(figsize=(12.82, 13.62), dpi=100)

for P in panels:
    ax = fig.add_axes(P['pos'])
    ax.set_xlim(0, 1)
    ax.set_ylim(0, 85)

    xs, ys, zs = [], [], []
    for lev, px, py in P['iso']:
        xs += px
        ys += py
        zs += [lev] * len(px)
    xs = np.array(xs)
    ys = np.array(ys)
    zs = np.array(zs)
    # triangulate in a roughly isotropic frame (x scaled to the RH range), smooth with matplotlib's refiner
    tri_s = mtri.Triangulation(xs * 85.0, ys)
    interp = mtri.CubicTriInterpolator(tri_s, zs, kind='geom')
    tri_r, z_r = mtri.UniformTriRefiner(tri_s).refine_field(zs, triinterpolator=interp, subdiv=2)
    tri = mtri.Triangulation(tri_r.x / 85.0, tri_r.y, tri_r.triangles)
    cs = ax.tricontour(tri, z_r, levels=levels, cmap=cmap, norm=norm,
                       linestyles='dashed', linewidths=0.8, zorder=1)
    # invisible copy holding only the labelled levels, used to place the labels
    cs_lab = ax.tricontour(tri, z_r, levels=lab_levels, colors='none', linewidths=0.0, zorder=0)
    ax.clabel(cs_lab, manual=P['clab'], inline=False, fontsize=10, colors='k', fmt='%g', zorder=7)
    for s, x, y in P['extra']:
        ax.text(x, y, s, fontsize=10, ha='center', va='center', zorder=7)

    for wx, wy in P['white']:
        ax.fill(wx, wy, color='white', lw=0, zorder=2)

    for lev, rh, x0, x1, lx in P['hz']:
        ax.plot([x0, x1], [rh, rh], color=cmap(norm(lev)), lw=0.9, ls='--', zorder=3)
        if lx is not None:
            ax.text(lx, rh, '%g' % lev, ha='center', va='center', fontsize=10, zorder=7)

    for bx, by in P['bnd']:
        ax.plot(bx, by, color='k', lw=0.9, zorder=4)
    ax.plot(P['thick'][0], P['thick'][1], color='k', lw=1.7, zorder=4)

    for mx, my in P['mag']:
        ax.plot(mx, my, color=MAG, lw=2.6, ls=(0, (3.2, 2.2)), zorder=5, clip_on=False)
    for txt, rh in P['mlab']:
        ax.plot([1.0, 1.14], [rh, rh], color=MAG, lw=0.8, ls=(0, (5, 2)), zorder=5, clip_on=False)
        ax.text(1.018, rh + 0.9, txt, color=MAG, fontsize=9.5, ha='left', va='center', clip_on=False)

    for s, x, y in P['reg']:
        ax.text(x, y, s, fontsize=12, fontweight='bold', ha='center', va='center', zorder=8)
    for s, x, y in P['lab']:
        ax.text(x, y, s, fontsize=24, color=MAG, ha='center', va='center', zorder=8)

    for s, x, yb in P['ptr']:
        ax.plot([x, x], [1.5, yb], color='k', lw=0.8, clip_on=False)
        if s == 'BDG':
            ax.plot([x, x - 0.006], [yb, yb], color='k', lw=0.8, clip_on=False)
            ax.text(x - 0.012, yb - 0.4, s, fontsize=12, fontweight='bold', ha='right', va='center')
        else:
            ax.plot([x, x + 0.006], [yb, yb], color='k', lw=0.8, clip_on=False)
            ax.text(x + 0.014, yb - 0.4, s, fontsize=12, fontweight='bold', ha='left', va='center')

    ax.xaxis.set_major_locator(MultipleLocator(0.1))
    ax.xaxis.set_minor_locator(MultipleLocator(0.02))
    ax.yaxis.set_major_locator(MultipleLocator(10))
    ax.yaxis.set_minor_locator(MultipleLocator(2))
    ax.xaxis.set_major_formatter(FuncFormatter(lambda v, p: '%g' % round(v, 2)))
    ax.tick_params(which='both', direction='in', top=True, right=True, labelsize=10, width=0.8)
    ax.tick_params(which='major', length=6)
    ax.tick_params(which='minor', length=3)
    for sp in ax.spines.values():
        sp.set_linewidth(1.1)
    ax.set_xlabel('Ammonium Fraction \u2013 X', fontsize=10, labelpad=3)
    ax.set_ylabel('RH (%)', fontsize=10)

    ax.text(0.0, 1.012, 'Sulfate Fraction Y = 0.85', transform=ax.transAxes, fontsize=7.5, ha='left', va='bottom')
    ax.text(0.5, 1.02, 'Water Content', transform=ax.transAxes, fontsize=10, ha='center', va='bottom')
    ax.text(1.0, 1.012, 'T = 298.15 K', transform=ax.transAxes, fontsize=7.5, ha='right', va='bottom')

    fig.text(P['tpos'][0] / 1282.0, 1 - P['tpos'][1] / 1362.0, P['name'], family='Liberation Serif',
             fontsize=13, ha='center', va='center')

fig.savefig('out.png', dpi=100)
